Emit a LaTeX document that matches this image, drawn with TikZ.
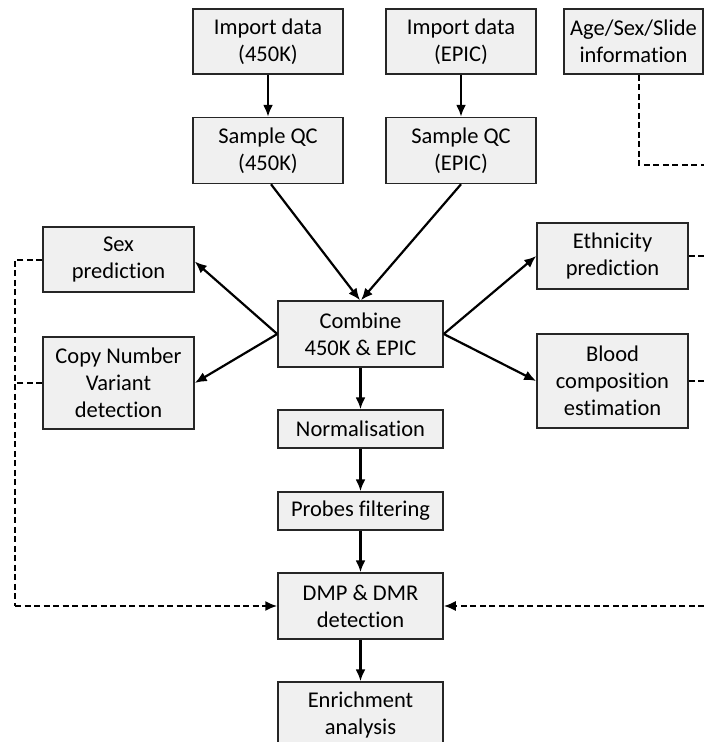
\documentclass[tikz,border=0pt]{standalone}
\usepackage{fontspec}
\setmainfont[Ligatures={NoCommon}]{Carlito}
\usetikzlibrary{arrows.meta}
\tikzset{
  box/.style={draw=black!85, line width=1.5pt, fill=black!6, align=center, inner sep=0pt,
    font=\fontsize{22.5}{27}\selectfont},
  arr/.style={line width=2.2pt, -{Latex[length=12pt,width=10pt]}},
  dashline/.style={line width=2pt, dash pattern=on 6pt off 3.5pt},
  darr/.style={dashline, -{Latex[length=12pt,width=10pt]}}
}
\begin{document}
\begin{tikzpicture}[x=1pt,y=-1pt]
\useasboundingbox (0,0) rectangle (704,742);
\node[box, minimum width=150pt, minimum height=65pt] (imp450) at (268,41.5) {Import data\\(450K)};
\node[box, minimum width=150pt, minimum height=65pt] (impepic) at (461,41.5) {Import data\\(EPIC)};
\node[box, minimum width=139pt, minimum height=65pt] (age) at (633.5,41.5) {Age/Sex/Slide\\information};
\node[box, minimum width=150pt, minimum height=66pt] (sqc450) at (268,150.5) {Sample QC\\(450K)};
\node[box, minimum width=150pt, minimum height=66pt] (sqcepic) at (461,150.5) {Sample QC\\(EPIC)};
\node[box, minimum width=151pt, minimum height=65pt] (sex) at (118.5,259.5) {Sex\\prediction};
\node[box, minimum width=151pt, minimum height=92pt] (cnv) at (118.5,383) {Copy Number\\Variant\\detection};
\node[box, minimum width=165pt, minimum height=66pt] (comb) at (360.5,334) {Combine\\450K \& EPIC};
\node[box, minimum width=151pt, minimum height=66pt] (eth) at (612.5,256) {Ethnicity\\prediction};
\node[box, minimum width=151pt, minimum height=94pt] (blood) at (612.5,381) {Blood\\composition\\estimation};
\node[box, minimum width=165pt, minimum height=38pt] (norm) at (360.5,429) {Normalisation};
\node[box, minimum width=165pt, minimum height=38pt] (probes) at (360.5,511) {Probes filtering};
\node[box, minimum width=165pt, minimum height=66pt] (dmp) at (360.5,606) {DMP \& DMR\\detection};
\node[box, minimum width=165pt, minimum height=66pt] (enr) at (360.5,715) {Enrichment\\analysis};

\coordinate (rtop) at (704,165);
\coordinate (reth) at (704,256);
\coordinate (rblood) at (704,381);
\coordinate (rdmp) at (704,606);
\coordinate (lsex) at (15,259.5);
\coordinate (lcnv) at (15,383);
\coordinate (ldmp) at (15,606);

\draw[arr] (imp450) -- (sqc450);
\draw[arr] (impepic) -- (sqcepic);
\draw[arr] ([xshift=3pt]sqc450.south) -- ([xshift=-0.5pt]comb.north);
\draw[arr] (sqcepic.south) -- ([xshift=0.5pt]comb.north);
\draw[arr] (comb.west) -- ([yshift=-2pt]sex.east);
\draw[arr] (comb.west) -- (cnv.east);
\draw[arr] (comb.east) -- (eth.west);
\draw[arr] (comb.east) -- (blood.west);
\draw[arr] (comb) -- (norm);
\draw[arr] (norm) -- (probes);
\draw[arr] (probes) -- (dmp);
\draw[arr] (dmp) -- (enr);

\draw[dashline] ([xshift=5.5pt]age.south) |- (rtop);
\draw[dashline] (eth.east) -- (reth);
\draw[dashline] (blood.east) -- (rblood);
\draw[darr] (rdmp) -- (dmp.east);
\draw[dashline] (sex.west) -- (lsex) -- (ldmp);
\draw[dashline] (cnv.west) -- (lcnv);
\draw[darr] (ldmp) -- (dmp.west);
\end{tikzpicture}
\end{document}
